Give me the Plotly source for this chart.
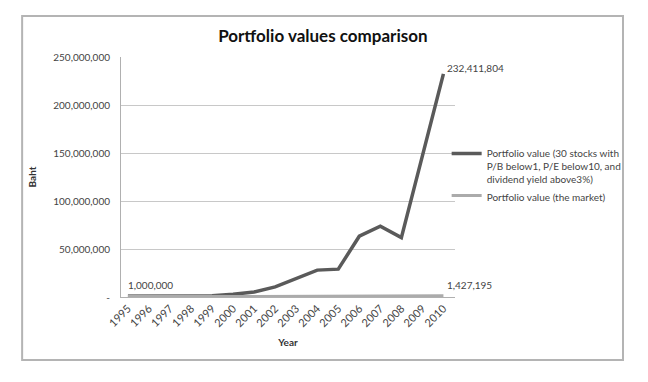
import plotly.graph_objects as go

years = ["1995", "1996", "1997", "1998", "1999", "2000", "2001", "2002",
         "2003", "2004", "2005", "2006", "2007", "2008", "2009", "2010"]
strategy = [1000000, 950000, 850000, 800000, 1400000, 2800000, 5200000, 10500000,
            19500000, 28000000, 29000000, 63300000, 73800000, 61900000, 147000000, 232411804]
market = [1000000, 760000, 520000, 450000, 700000, 520000, 460000, 560000,
          900000, 950000, 1000000, 950000, 1250000, 650000, 1050000, 1427195]
y_ticks = [0, 50000000, 100000000, 150000000, 200000000, 250000000]
y_labels = ["-", "50,000,000", "100,000,000", "150,000,000", "200,000,000", "250,000,000"]
name_strategy = "Portfolio value (30 stocks with<br>P/B below1, P/E below10, and<br>dividend yield above3%)"
name_market = "Portfolio value (the market)"

FONT = "Lato"
xi = list(range(len(years)))

fig = go.Figure()
fig.add_trace(go.Scatter(x=xi, y=strategy, mode="lines", name=name_strategy,
                         line=dict(color="#5a5a5a", width=3.5)))
fig.add_trace(go.Scatter(x=xi, y=market, mode="lines", name=name_market,
                         line=dict(color="#ababab", width=3)))

fig.add_annotation(x=xi[0], y=market[0], text=f"{market[0]:,}", showarrow=False,
                   xanchor="left", yanchor="bottom", yshift=3, xshift=-2,
                   font=dict(family=FONT, size=10, color="#444"))
fig.add_annotation(x=xi[-1], y=strategy[-1], text=f"{strategy[-1]:,}", showarrow=False,
                   xanchor="left", yanchor="bottom", yshift=-2, xshift=2,
                   font=dict(family=FONT, size=10, color="#444"))
fig.add_annotation(x=xi[-1], y=market[-1], text=f"{market[-1]:,}", showarrow=False,
                   xanchor="left", yanchor="bottom", yshift=3, xshift=2,
                   font=dict(family=FONT, size=10, color="#444"))

fig.add_shape(type="rect", xref="paper", yref="paper",
              x0=-0.296, x1=1.503, y0=-0.2625, y1=1.171,
              line=dict(color="#b4b4b4", width=2))

fig.update_layout(
    width=640, height=374,
    margin=dict(l=113, r=193, t=49, b=85),
    paper_bgcolor="white", plot_bgcolor="white",
    title=dict(text="<b>Portfolio values comparison</b>", x=0.492, xanchor="center",
               y=1 - 28 / 374, yanchor="middle",
               font=dict(family=FONT, size=17, color="#111")),
    font=dict(family=FONT, size=10, color="#444"),
    xaxis=dict(range=[-0.33, 15.55], tickmode="array", tickvals=xi, ticktext=years,
               tickangle=-45, showgrid=False, showline=True, linecolor="#b0b0b0",
               linewidth=1, ticks="", zeroline=False,
               tickfont=dict(family=FONT, size=11, color="#444"),
               title=dict(text="<b>Year</b>", font=dict(family=FONT, size=10, color="#333"),
                          standoff=10)),
    yaxis=dict(range=[0, 250000000], tickmode="array", tickvals=y_ticks, ticktext=y_labels,
               showgrid=True, gridcolor="#c8c8c8", gridwidth=1, showline=True,
               linecolor="#b0b0b0", linewidth=1, zeroline=False, ticks="",
               ticklabelstandoff=8,
               title=dict(text="<b>Baht</b>", font=dict(family=FONT, size=10, color="#333"),
                          standoff=14)),
    legend=dict(x=0.975, y=0.6525, xanchor="left", yanchor="top", bgcolor="rgba(0,0,0,0)",
                font=dict(family=FONT, size=10, color="#444"), valign="top",
                tracegroupgap=4, itemwidth=30),
    showlegend=True,
)

fig.write_html("out.html")
